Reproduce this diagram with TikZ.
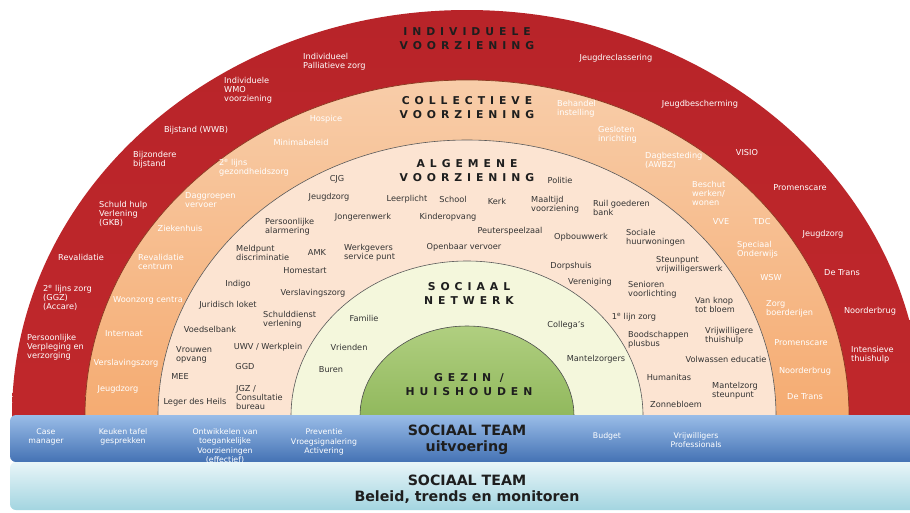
\documentclass[tikz,border=0pt]{standalone}
\usepackage{fontspec}
\setmainfont{DejaVu Sans}
\newfontfamily\spacedfont[LetterSpace=46]{DejaVu Sans}
\usepackage{tikz}
\definecolor{RingRed}{HTML}{C72B2E}
\definecolor{RingRedTop}{HTML}{B82429}
\definecolor{PeachTop}{HTML}{F8CDA9}
\definecolor{PeachOrange}{HTML}{F28A3A}
\definecolor{Cream}{HTML}{FCE4D2}
\definecolor{PaleGreen}{HTML}{F4F7DC}
\definecolor{GezinTop}{HTML}{B0CF80}
\definecolor{GezinBottom}{HTML}{72A23A}
\definecolor{TeamBlueTop}{HTML}{9ABDE8}
\definecolor{TeamBlue}{HTML}{6291CF}
\definecolor{TeamBlueDark}{HTML}{4472B4}
\definecolor{PolicyTop}{HTML}{E8F5F8}
\definecolor{PolicyBottom}{HTML}{A3D5E0}
\definecolor{Ink}{HTML}{333333}
\definecolor{Charcoal}{HTML}{1E1E1E}
\definecolor{RimBrown}{HTML}{8A3A22}
\newcommand{\lblsize}{\fontsize{8.2}{9}\selectfont}
\newcommand{\titlesize}{\fontsize{10.8}{14}\selectfont}
\newcommand{\teamsize}{\fontsize{14.2}{16}\selectfont}

\begin{document}
\begin{tikzpicture}[x=1pt, y=-1pt,
    lbl/.style={font=\lblsize, text=Ink, inner sep=0pt},
    lblw/.style={lbl, text=white},
    multi/.style={anchor=west, align=left},
    ringtitle/.style={font=\spacedfont\bfseries\titlesize, text=Charcoal, align=center},
    teamtitle/.style={font=\bfseries\teamsize, text=Charcoal, align=center},
    teamlbl/.style={font=\fontsize{7.8}{9.3}\selectfont, text=white, align=center, inner sep=0pt}]
    \useasboundingbox (0,0) rectangle (910,512);

    % rings, cut off at the team band
    \begin{scope}
        \clip (0,0) rectangle (910,416);
        \shade[top color=RingRedTop, middle color=RingRed, bottom color=RingRed] (467,416) ellipse [x radius=455, y radius=406];
        \shade[draw=RimBrown, line width=0.7pt, top color=PeachTop, middle color=PeachOrange, bottom color=PeachOrange] (467,416) ellipse [x radius=382, y radius=336];
        \fill[Cream, draw=gray!70!black, line width=0.6pt] (467,416) ellipse [x radius=309, y radius=276];
        \fill[PaleGreen, draw=gray!70!black, line width=0.6pt] (467,416) ellipse [x radius=176, y radius=155];
        \shade[draw=gray!60!black, line width=0.6pt, top color=GezinTop, middle color=GezinBottom, bottom color=GezinBottom] (467,416) ellipse [x radius=107, y radius=90];
    \end{scope}

    % team bands
    \shade[top color=TeamBlueTop, middle color=TeamBlue, bottom color=TeamBlueDark, rounded corners=6pt] (10,415) rectangle (924,462);
    \shade[top color=PolicyTop, bottom color=PolicyBottom, rounded corners=6pt] (10,462) rectangle (924,510);

    % ring titles
    \node[ringtitle] (individueel) at (467,39) {INDIVIDUELE\\VOORZIENING};
    \node[ringtitle] (collectief) at (467,108) {COLLECTIEVE\\VOORZIENING};
    \node[ringtitle] (algemeen) at (467,171) {ALGEMENE\\VOORZIENING};
    \node[ringtitle] (netwerk) at (469,293) {SOCIAAL\\NETWERK};
    \node[ringtitle] (gezin) at (469,385) {GEZIN /\\HUISHOUDEN};
    \node[teamtitle] (uitvoering) at (467,440) {SOCIAAL TEAM\\uitvoering};
    \node[teamtitle] (beleid) at (467,489) {SOCIAAL TEAM\\Beleid, trends en monitoren};

    % individuele voorziening
    \node[lblw, multi] (ind1) at (303,62) {Individueel\\Palliatieve zorg};
    \node[lblw, multi] (ind2) at (224,90) {Individuele\\WMO\\voorziening};
    \node[lblw] (ind3) at (196,130) {Bijstand (WWB)};
    \node[lblw, multi] (ind4) at (133,160) {Bijzondere\\bijstand};
    \node[lblw, multi] (ind5) at (99,214) {Schuld hulp\\Verlening\\(GKB)};
    \node[lblw] (ind6) at (81,257) {Revalidatie};
    \node[lblw, multi] (ind7) at (43,298) {2\textsuperscript{e} lijns zorg\\(GGZ)\\(Accare)};
    \node[lblw, multi] (ind8) at (27,347) {Persoonlijke\\Verpleging en\\verzorging};
    \node[lblw] (ind9) at (616,58) {Jeugdreclassering};
    \node[lblw] (ind10) at (700,104) {Jeugdbescherming};
    \node[lblw] (ind11) at (747,153) {VISIO};
    \node[lblw] (ind12) at (800,188) {Promenscare};
    \node[lblw] (ind13) at (823,234) {Jeugdzorg};
    \node[lblw] (ind14) at (842,273) {De Trans};
    \node[lblw] (ind15) at (870,311) {Noorderbrug};
    \node[lblw, multi] (ind16) at (851,355) {Intensieve\\thuishulp};

    % collectieve voorziening
    \node[lblw] (col1) at (326,119) {Hospice};
    \node[lblw] (col2) at (301,142) {Minimabeleid};
    \node[lblw, multi] (col3) at (219,168) {2\textsuperscript{e} lijns\\gezondheidszorg};
    \node[lblw, multi] (col4) at (185,200) {Daggroepen\\vervoer};
    \node[lblw] (col5) at (180,228) {Ziekenhuis};
    \node[lblw, multi] (col6) at (138,262) {Revalidatie\\centrum};
    \node[lblw, anchor=west] (col7) at (113,300) {Woonzorg centra};
    \node[lblw] (col8) at (124,334) {Internaat};
    \node[lblw] (col9) at (126,363) {Verslavingszorg};
    \node[lblw] (col10) at (118,389) {Jeugdzorg};
    \node[lblw, multi] (col11) at (557,109) {Behandel\\instelling};
    \node[lblw, multi] (col12) at (598,135) {Gesloten\\inrichting};
    \node[lblw, multi] (col13) at (645,160) {Dagbesteding\\(AWBZ)};
    \node[lblw, multi] (col14) at (692,193) {Beschut\\werken/\\wonen};
    \node[lblw] (col15) at (721,222) {VVE};
    \node[lblw] (col16) at (762,222) {TDC};
    \node[lblw, multi] (col17) at (737,250) {Speciaal\\Onderwijs};
    \node[lblw] (col18) at (771,278) {WSW};
    \node[lblw, multi] (col19) at (766,309) {Zorg\\boerderijen};
    \node[lblw] (col20) at (801,343) {Promenscare};
    \node[lblw] (col21) at (805,371) {Noorderbrug};
    \node[lblw] (col22) at (805,397) {De Trans};

    % algemene voorziening
    \node[lbl] (alg1) at (337,179) {CJG};
    \node[lbl] (alg2) at (329,197) {Jeugdzorg};
    \node[lbl] (alg3) at (407,199) {Leerplicht};
    \node[lbl] (alg4) at (453,199) {School};
    \node[lbl] (alg5) at (497,201) {Kerk};
    \node[lbl, multi] (alg6) at (531,205) {Maaltijd\\voorziening};
    \node[lbl, multi] (alg7) at (593,208) {Ruil goederen\\bank};
    \node[lbl] (alg8) at (560,180) {Politie};
    \node[lbl] (alg9) at (363,217) {Jongerenwerk};
    \node[lbl] (alg10) at (448,217) {Kinderopvang};
    \node[lbl, multi] (alg11) at (265,227) {Persoonlijke\\alarmering};
    \node[lbl] (alg12) at (510,231) {Peuterspeelzaal};
    \node[lbl] (alg13) at (581,237) {Opbouwwerk};
    \node[lbl, multi] (alg14) at (626,238) {Sociale\\huurwoningen};
    \node[lbl] (alg15) at (464,247) {Openbaar vervoer};
    \node[lbl, multi] (alg16) at (236,253) {Meldpunt\\discriminatie};
    \node[lbl] (alg17) at (317,253) {AMK};
    \node[lbl, multi] (alg18) at (344,253) {Werkgevers\\service punt};
    \node[lbl] (alg19) at (305,271) {Homestart};
    \node[lbl, multi] (alg20) at (656,265) {Steunpunt\\vrijwilligerswerk};
    \node[lbl] (alg21) at (571,266) {Dorpshuis};
    \node[lbl] (alg22) at (238,284) {Indigo};
    \node[lbl] (alg23) at (313,293) {Verslavingszorg};
    \node[lbl] (alg24) at (590,282) {Vereniging};
    \node[lbl, multi] (alg25) at (628,290) {Senioren\\voorlichting};
    \node[lbl, multi] (alg26) at (695,305) {Van knop\\tot bloem};
    \node[lbl] (alg27) at (228,305) {Juridisch loket};
    \node[lbl, multi] (alg28) at (263,320) {Schulddienst\\verlening};
    \node[lbl] (alg29) at (634,317) {1\textsuperscript{e} lijn zorg};
    \node[lbl] (alg30) at (210,329) {Voedselbank};
    \node[lbl, multi] (alg31) at (628,340) {Boodschappen\\plusbus};
    \node[lbl, multi] (alg32) at (705,336) {Vrijwilligere\\thuishulp};
    \node[lbl, multi] (alg33) at (176,355) {Vrouwen\\opvang};
    \node[lbl] (alg34) at (268,347) {UWV / Werkplein};
    \node[lbl] (alg35) at (726,359) {Volwassen educatie};
    \node[lbl] (alg36) at (245,367) {GGD};
    \node[lbl] (alg37) at (180,377) {MEE};
    \node[lbl] (alg38) at (669,377) {Humanitas};
    \node[lbl, multi] (alg39) at (712,391) {Mantelzorg\\steunpunt};
    \node[lbl, multi] (alg40) at (236,398) {JGZ /\\Consultatie\\bureau};
    \node[lbl] (alg41) at (195,402) {Leger des Heils};
    \node[lbl] (alg42) at (676,404) {Zonnebloem};

    % sociaal netwerk
    \node[lbl] (soc1) at (364,318) {Familie};
    \node[lbl] (soc2) at (349,347) {Vrienden};
    \node[lbl] (soc3) at (331,370) {Buren};
    \node[lbl] (soc4) at (566,325) {Collega's};
    \node[lbl] (soc5) at (596,359) {Mantelzorgers};

    % sociaal team uitvoering
    \node[teamlbl] (team1) at (46,437) {Case\\manager};
    \node[teamlbl] (team2) at (123,437) {Keuken tafel\\gesprekken};
    \node[teamlbl] (team3) at (225,446) {Ontwikkelen van\\toegankelijke\\Voorzieningen\\(effectief)};
    \node[teamlbl] (team4) at (324,442) {Preventie\\Vroegsignalering\\Activering};
    \node[teamlbl] (team5) at (607,436) {Budget};
    \node[teamlbl] (team6) at (696,440) {Vrijwilligers\\Professionals};
\end{tikzpicture}
\end{document}
